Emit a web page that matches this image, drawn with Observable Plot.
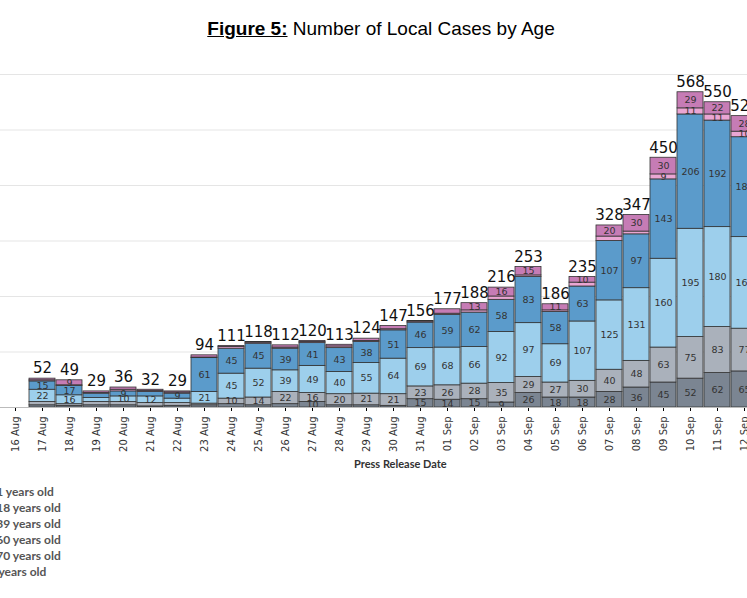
<!DOCTYPE html>
<html>
<head>
<meta charset="utf-8">
<script src="https://cdn.jsdelivr.net/npm/d3@7"></script>
<script src="https://cdn.jsdelivr.net/npm/@observablehq/plot@0.6"></script>
<style>
  body { margin: 0; width: 747px; height: 598px; overflow: hidden; background: #fff; font-family: "Liberation Sans", Arial, sans-serif; }
  #title { height: 50px; text-align: center; font-size: 19px; line-height: 58px; padding-left: 15px; }
  #chart { width: 900px; }
  #chart svg { margin-left: -46px; display: block; max-width: none !important; }
  #xlabel { font-family: Lato, sans-serif; font-weight: bold; font-size: 11px; color: #333; margin-left: 354px; margin-top: 2px; }
  #legend { margin-left: -44px; margin-top: 14px; font-family: Lato, sans-serif; font-weight: bold; font-size: 12px; color: #555; }
  #legend div { height: 16px; line-height: 16px; white-space: nowrap; }
  #legend span { display: inline-block; width: 10px; height: 10px; margin-right: 6px; vertical-align: -1px; }
</style>
</head>
<body>
<div id="title"><b><u>Figure 5:</u></b> Number of Local Cases by Age</div>
<div id="chart"></div>
<div id="xlabel">Press Release Date</div>
<div id="legend"></div>
<script>
const dates = ["16 Aug","17 Aug","18 Aug","19 Aug","20 Aug","21 Aug","22 Aug","23 Aug","24 Aug","25 Aug","26 Aug","27 Aug","28 Aug","29 Aug","30 Aug","31 Aug","01 Sep","02 Sep","03 Sep","04 Sep","05 Sep","06 Sep","07 Sep","08 Sep","09 Sep","10 Sep","11 Sep","12 Sep"]
// bottom to top of each stack
const ages = ["> 70 years old","61 - 70 years old","40 - 60 years old","19 - 39 years old","12 - 18 years old","0 - 11 years old"]
const colors = ["#7b8592","#aab1bb","#9dcfec","#5b9bcb","#eaa6d3","#c67cb5"]
const over70   = [0,4,3,4,4,2,3,4,6,4,6,10,4,4,3,15,14,15,9,26,18,18,28,36,45,52,62,65]
const age61_70 = [0,6,3,6,6,6,5,3,10,14,22,16,20,21,21,23,26,28,35,29,27,30,40,48,63,75,83,77]
const age40_60 = [0,22,16,7,10,12,8,21,45,52,39,49,40,55,64,69,68,66,92,97,69,107,125,131,160,195,180,165]
const age19_39 = [0,15,17,8,9,8,9,61,45,45,39,41,43,38,51,46,59,62,58,83,58,63,107,97,143,206,192,180]
const age12_18 = [0,2,1,1,3,2,2,1,3,2,2,2,3,2,2,2,2,4,6,3,3,7,8,5,9,11,11,10]
const age0_11  = [0,3,9,3,4,2,2,4,2,1,4,2,3,4,6,1,8,13,16,15,11,10,20,30,30,29,22,28]

const series = [over70, age61_70, age40_60, age19_39, age12_18, age0_11]
const rows = []
dates.forEach((d, i) => ages.forEach((a, j) => rows.push({date: d, age: a, cases: series[j][i]})))
const totals = dates.map((d, i) => ({date: d, total: d3.sum(series, s => s[i])})).filter(d => d.total > 0)

const stackOpts = {x: "date", y: "cases", z: "age", fill: "age", order: ages}

const chart = Plot.plot({
  width: 842,
  height: 405,
  marginLeft: 34,
  marginRight: 26,
  marginTop: 24,
  marginBottom: 48,
  style: {fontFamily: "'DejaVu Sans', sans-serif", maxWidth: "none"},
  x: {domain: dates, padding: 0.04, label: null},
  y: {domain: [0, 600], ticks: d3.range(0, 601, 100), grid: true, label: null},
  color: {domain: ages, range: colors},
  marks: [
    Plot.axisY({tickSize: 6, fontSize: 10, stroke: "#999", fill: "#555"}),
    Plot.axisX({tickRotate: -90, fontSize: 10, fill: "#333", tickSize: 4}),
    Plot.barY(rows, Plot.stackY({...stackOpts, stroke: "#333", strokeWidth: 0.8})),
    Plot.text(rows, Plot.stackY({...stackOpts, text: d => d.cases >= 9 ? d.cases : "", fill: "#333", fontSize: 9.5})),
    Plot.text(totals, {x: "date", y: "total", text: "total", dy: -10, fontSize: 15, fill: "#111"}),
    Plot.ruleY([0], {stroke: "#bbb"})
  ]
})
d3.select("#chart").append(() => chart)

const legend = d3.select("#legend")
ages.slice().reverse().forEach((a) => {
  const row = legend.append("div")
  row.append("span").style("background", colors[ages.indexOf(a)])
  row.append("text").text(a)
})
</script>
</body>
</html>
